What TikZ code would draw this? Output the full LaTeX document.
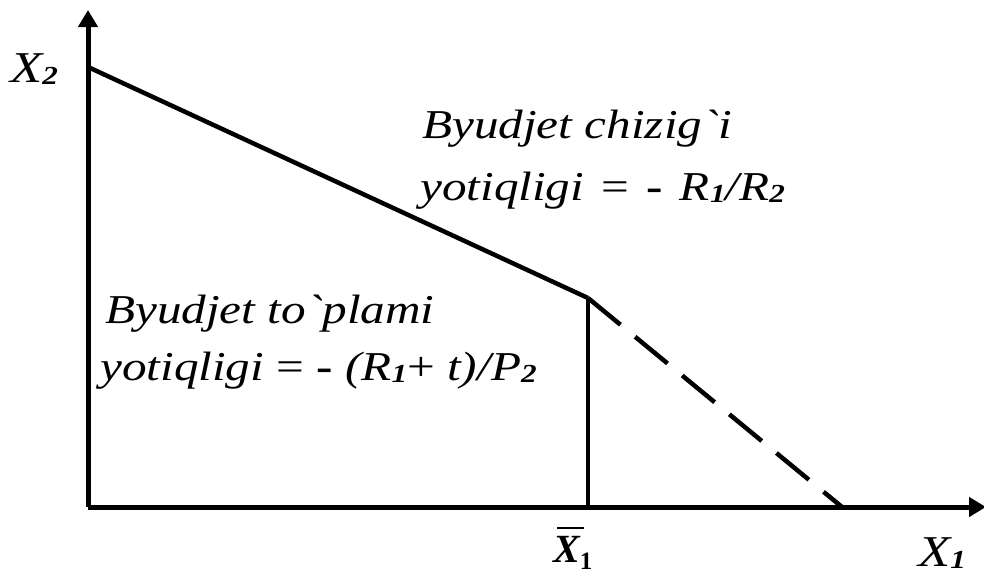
\documentclass[tikz,border=0pt]{standalone}
\usepackage{fontspec}
\setmainfont{Liberation Serif}
\usetikzlibrary{arrows.meta}
\newcommand{\sbx}[1]{\raisebox{-0.05em}{\fontsize{26}{26}\selectfont\bfseries\itshape #1}}
\newcommand{\wide}[1]{\scalebox{1.2}[1]{#1}}
\tikzset{
  axis/.style={line width=5pt,-{Triangle[length=17pt,width=19pt]}},
  bline/.style={line width=4.5pt},
  lbl/.style={inner sep=0pt,anchor=base west,font=\fontsize{41}{41}\selectfont\itshape},
}
\begin{document}
\begin{tikzpicture}[x=1pt,y=-1pt]
\useasboundingbox (0,0) rectangle (984,574);
\coordinate (O) at (88,507);
\coordinate (Ytop) at (88,10);
\coordinate (Xend) at (986,507);
\coordinate (A) at (88,67);
\coordinate (K) at (588,298);
\coordinate (Kb) at (588,507);
\coordinate (D) at (842,507);
\draw[bline] (A) -- (K);
\draw[line width=4.5pt] (K) -- (Kb);
\draw[bline,dash pattern=on 42pt off 19pt] (K) -- (D);
\draw[axis] (O) -- (Ytop);
\draw[axis] (O) -- (Xend);
\node[lbl,font=\fontsize{44}{44}\selectfont\itshape] (x2) at (10,82) {\wide{X\sbx{2}}};
\node[lbl,font=\fontsize{44}{44}\selectfont\itshape] (x1) at (918,566) {\wide{X\sbx{1}}};
\node[inner sep=0pt,anchor=base west,font=\fontsize{40}{40}\selectfont\bfseries\itshape] (xb) at (553,562) {X\raisebox{-0.18em}{\fontsize{25}{25}\selectfont\bfseries\upshape 1}};
\coordinate (xbl) at (557,528);
\coordinate (xbr) at (584,528);
\draw[line width=2.2pt] (xbl) -- (xbr);
\node[lbl] (t1) at (422,138) {\wide{Byudjet chizig\textasciigrave i}};
\node[lbl] (t2) at (420,200) {\wide{yotiqligi\hspace{0.35em}{\upshape=}\hspace{0.35em}{\bfseries\upshape -}\hspace{0.35em}R\sbx{1}/R\sbx{2}}};
\node[lbl] (t3) at (105,323) {\wide{Byudjet to\textasciigrave plami}};
\node[lbl] (t4) at (100,380) {\wide{yotiqligi {\upshape=} {\bfseries\upshape -} (R\sbx{1}{\upshape+} t)/P\sbx{2}}};
\end{tikzpicture}
\end{document}
